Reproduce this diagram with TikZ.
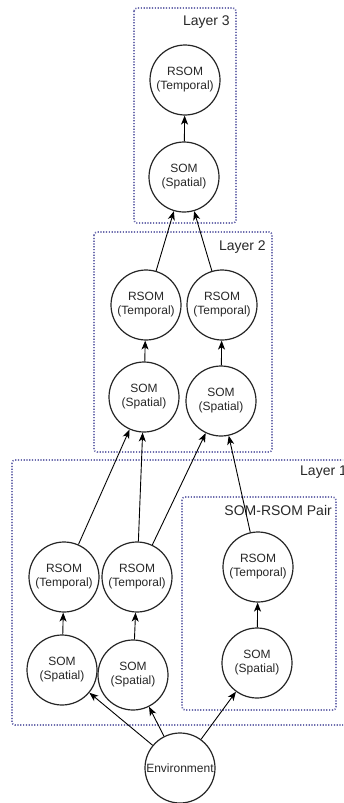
\documentclass[tikz,border=0pt]{standalone}
\usepackage{fontspec}
\setmainfont{Liberation Sans}
\usetikzlibrary{arrows.meta}
\definecolor{boxblue}{RGB}{110,110,175}
\definecolor{txt}{RGB}{40,40,40}
\tikzset{
  unit/.style={circle, draw=black!85, line width=1.2pt, minimum size=70pt, inner sep=0pt,
    align=center, font=\fontsize{12}{14}\selectfont, text=txt},
  layerbox/.style={draw=boxblue, line width=1.6pt, dash pattern=on 1.2pt off 1.6pt, rounded corners=3pt},
  boxlabel/.style={font=\fontsize{14}{16}\selectfont, text=txt, inner sep=0pt},
  conn/.style={draw=black, line width=0.9pt, -{Stealth[length=9pt,width=7pt,inset=2.5pt]}},
  link/.style={draw=black!80, line width=0.9pt}
}
\begin{document}
\begin{tikzpicture}[x=1pt,y=-1pt]
\clip (0,0) rectangle (343,803);
\fill[white] (0,0) rectangle (343,803);
% boxes
\draw[layerbox] (134,8) rectangle (236,223);
\draw[layerbox] (94,232) rectangle (272,452);
\draw[layerbox] (12,460) rectangle (380,725);
\draw[layerbox] (182,497) rectangle (336,710);
\node[boxlabel, anchor=east] (l3) at (230,22) {Layer 3};
\node[boxlabel, anchor=east] (l2) at (266,247) {Layer 2};
\node[boxlabel, anchor=west] (l1) at (300,472) {Layer 1};
\node[boxlabel, anchor=east] (lp) at (332,510) {SOM-RSOM Pair};
% nodes
\node[unit] (r3) at (185,80) {RSOM\\(Temporal)};
\node[unit] (s3) at (184,177) {SOM\\(Spatial)};
\node[unit] (r2a) at (146,305) {RSOM\\(Temporal)};
\node[unit] (r2b) at (222,305) {RSOM\\(Temporal)};
\node[unit] (s2a) at (144,397) {SOM\\(Spatial)};
\node[unit] (s2b) at (221,401) {SOM\\(Spatial)};
\node[unit] (r1a) at (64,577) {RSOM\\(Temporal)};
\node[unit] (r1b) at (137,577) {RSOM\\(Temporal)};
\node[unit] (r1c) at (258,567) {RSOM\\(Temporal)};
\node[unit] (s1a) at (62,670) {SOM\\(Spatial)};
\node[unit] (s1b) at (133,675) {SOM\\(Spatial)};
\node[unit] (s1c) at (257,663) {SOM\\(Spatial)};
\node[unit] (env) at (180,768) {Environment};
% SOM -> RSOM
\draw[conn] (s3) -- (r3);
\draw[conn] (s2a) -- (r2a);
\draw[conn] (s2b) -- (r2b);
\draw[conn] (s1a) -- (r1a);
\draw[conn] (s1b) -- (r1b);
\draw[conn] (s1c) -- (r1c);
% between layers
\draw[conn] (r2a) -- (s3);
\draw[conn] (r2b) -- (s3);
\draw[conn] (r1a) -- (s2a);
\draw[conn] (r1b) -- (s2a);
\draw[conn] (r1b) -- (s2b);
\draw[conn] (r1c) -- (s2b);
% environment
\draw[conn] (env) -- (s1a);
\draw[conn] (env) -- (s1b);
\draw[conn] (env) -- (s1c);
\end{tikzpicture}
\end{document}
